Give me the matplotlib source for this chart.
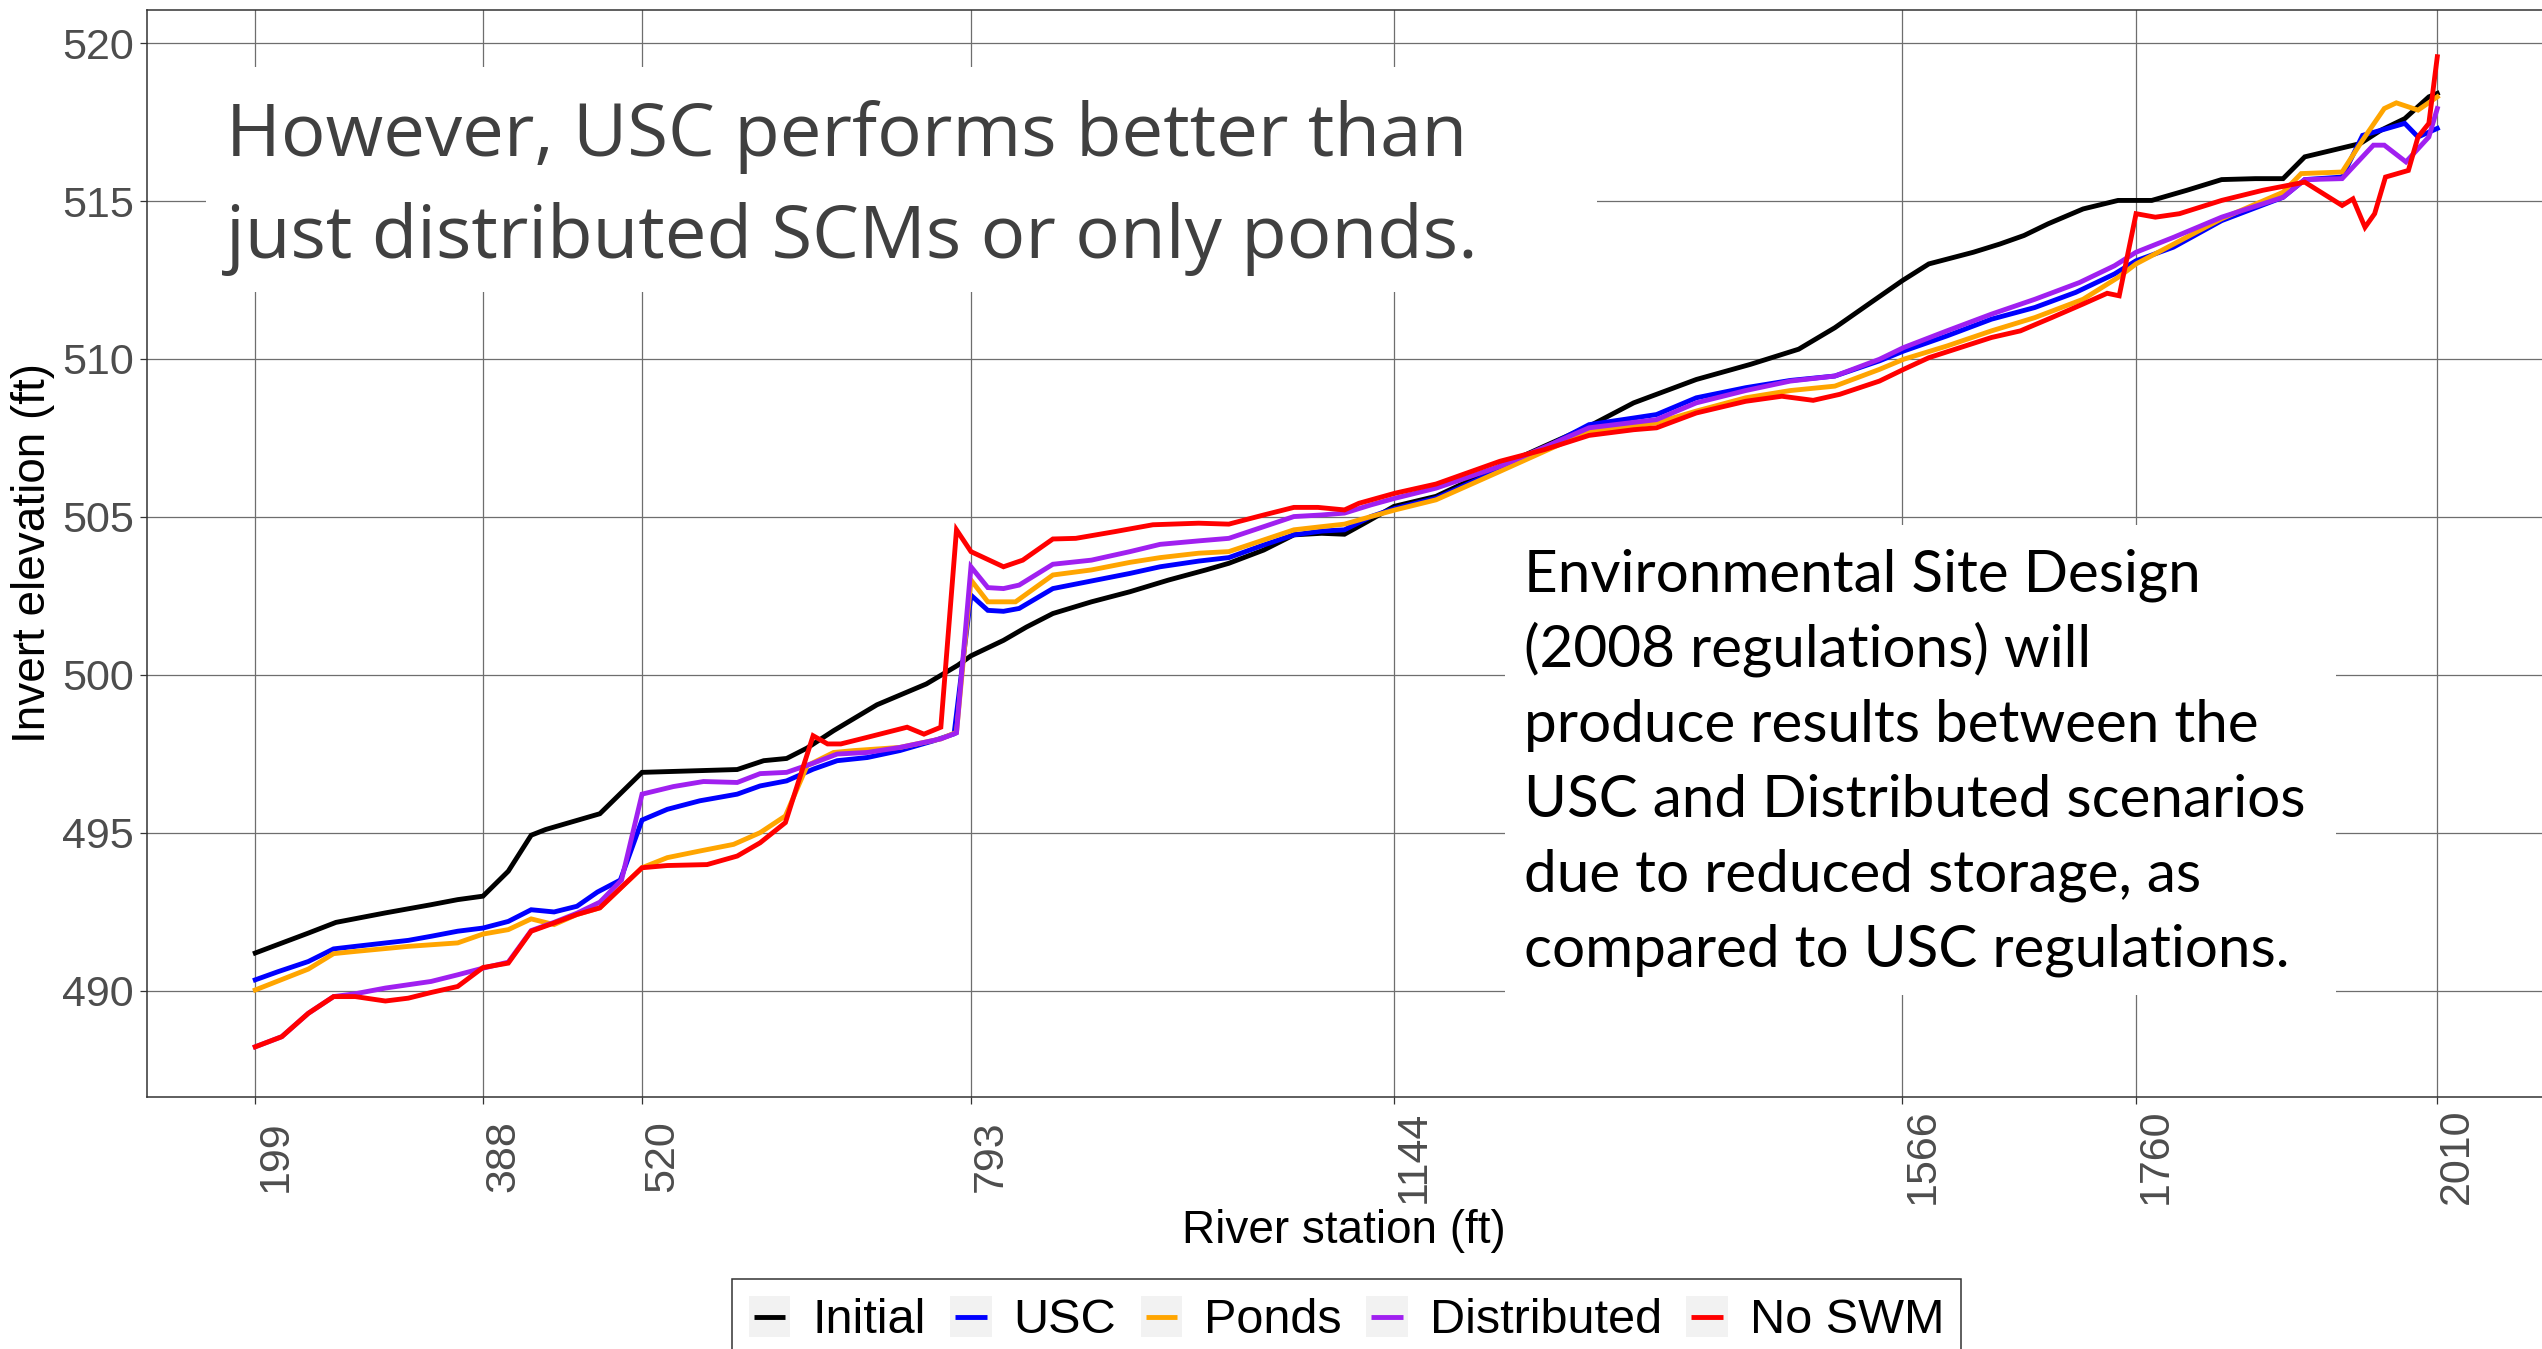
import matplotlib
matplotlib.use('Agg')
import matplotlib.pyplot as plt
from matplotlib.patches import Rectangle
from matplotlib.lines import Line2D
from matplotlib.legend_handler import HandlerLine2D

W, H = 2542, 1349

# river station (ft) / invert elevation (ft) for each scenario
initial_st = [199, 243, 266, 307, 345, 367, 388, 409, 428, 440, 485, 520, 599, 621, 640, 657,
              679, 715, 756, 782, 793, 820, 839, 861, 893, 925, 957, 988, 1007, 1036, 1061,
              1084, 1103, 1122, 1144, 1179, 1232, 1269, 1306, 1343, 1395, 1440, 1480, 1510,
              1540, 1566, 1588, 1625, 1647, 1667, 1687, 1716, 1745, 1773, 1802, 1831, 1859,
              1882, 1900, 1934, 1946, 1963, 1983, 2003, 2010]
initial_el = [491.19, 491.82, 492.16, 492.46, 492.72, 492.88, 492.99, 493.78, 494.92, 495.1,
              495.6, 496.91, 497.0, 497.28, 497.35, 497.68, 498.23, 499.05, 499.71, 500.3,
              500.6, 501.09, 501.51, 501.94, 502.31, 502.63, 503.0, 503.32, 503.53, 503.95,
              504.43, 504.48, 504.45, 504.85, 505.33, 505.65, 506.6, 507.24, 507.87, 508.61,
              509.35, 509.83, 510.31, 510.99, 511.79, 512.48, 513.01, 513.38, 513.64, 513.91,
              514.28, 514.75, 515.02, 515.02, 515.34, 515.68, 515.71, 515.71, 516.4, 516.71,
              516.82, 517.24, 517.61, 518.3, 518.41]

usc_st = [199, 218, 243, 264, 282, 326, 345, 367, 388, 409, 428, 447, 466, 483, 502, 520, 541,
          568, 599, 618, 640, 662, 682, 707, 734, 762, 779, 793, 807, 820, 833, 861, 893, 925,
          950, 982, 1007, 1036, 1061, 1084, 1103, 1125, 1145, 1179, 1232, 1269, 1306, 1343,
          1362, 1395, 1436, 1473, 1510, 1547, 1567, 1603, 1640, 1676, 1710, 1742, 1760, 1791,
          1831, 1882, 1900, 1931, 1948, 1963, 1983, 1994, 2010]
usc_el = [490.34, 490.6, 490.92, 491.32, 491.4, 491.59, 491.72, 491.88, 491.98, 492.19, 492.56,
          492.49, 492.67, 493.12, 493.5, 495.4, 495.74, 496.01, 496.22, 496.48, 496.64, 497.01,
          497.28, 497.38, 497.6, 497.91, 498.13, 502.52, 502.04, 502.01, 502.1, 502.73, 502.97,
          503.21, 503.42, 503.6, 503.71, 504.11, 504.43, 504.55, 504.59, 505.01, 505.27,
          505.59, 506.5, 507.18, 507.92, 508.13, 508.24, 508.77, 509.09, 509.32, 509.46,
          509.94, 510.25, 510.73, 511.26, 511.63, 512.11, 512.69, 513.11, 513.54, 514.38,
          515.12, 515.68, 515.76, 517.08, 517.24, 517.46, 517.03, 517.3]

ponds_st = [199, 243, 264, 282, 326, 367, 388, 409, 428, 447, 466, 485, 501, 520, 541, 568,
            596, 618, 639, 657, 679, 696, 734, 768, 781, 793, 807, 830, 861, 893, 925, 950,
            982, 1007, 1036, 1061, 1084, 1103, 1125, 1145, 1179, 1232, 1306, 1362, 1395,
            1436, 1473, 1510, 1547, 1567, 1603, 1640, 1676, 1716, 1745, 1760, 1831, 1882,
            1897, 1931, 1948, 1966, 1976, 1994, 2010]
ponds_el = [490.02, 490.68, 491.17, 491.24, 491.4, 491.51, 491.79, 491.93, 492.27, 492.09,
            492.41, 492.62, 493.2, 493.89, 494.21, 494.42, 494.63, 495.0, 495.53, 497.12,
            497.54, 497.6, 497.7, 497.97, 498.18, 503.0, 502.31, 502.31, 503.16, 503.32,
            503.56, 503.71, 503.85, 503.9, 504.27, 504.59, 504.69, 504.77, 505.01, 505.22,
            505.54, 506.44, 507.71, 507.98, 508.35, 508.77, 509.0, 509.14, 509.67, 509.99,
            510.41, 510.89, 511.31, 511.89, 512.58, 513.01, 514.44, 515.28, 515.87, 515.92,
            516.93, 517.93, 518.11, 517.88, 518.3]

dist_st = [199, 221, 243, 264, 282, 307, 345, 367, 388, 409, 428, 447, 466, 485, 503, 520,
           546, 571, 599, 618, 640, 662, 682, 707, 734, 768, 781, 793, 807, 820, 833, 861,
           893, 925, 950, 982, 1007, 1036, 1061, 1084, 1103, 1125, 1145, 1179, 1232, 1306,
           1362, 1395, 1436, 1473, 1510, 1547, 1567, 1603, 1640, 1676, 1713, 1742, 1760,
           1791, 1831, 1882, 1900, 1931, 1957, 1966, 1984, 2003, 2010]
dist_el = [488.22, 488.54, 489.28, 489.81, 489.9, 490.08, 490.29, 490.5, 490.71, 490.9, 491.9,
           492.16, 492.45, 492.8, 493.5, 496.22, 496.46, 496.62, 496.59, 496.87, 496.91,
           497.2, 497.49, 497.54, 497.7, 497.97, 498.16, 503.42, 502.76, 502.73, 502.84,
           503.5, 503.63, 503.9, 504.13, 504.24, 504.32, 504.69, 505.01, 505.06, 505.12,
           505.38, 505.59, 505.91, 506.6, 507.82, 508.08, 508.61, 509.0, 509.3, 509.46,
           509.99, 510.36, 510.89, 511.42, 511.89, 512.42, 512.95, 513.38, 513.85, 514.49,
           515.12, 515.68, 515.71, 516.77, 516.77, 516.24, 517.03, 517.93]

noswm_st = [199, 221, 243, 264, 282, 307, 326, 345, 367, 388, 409, 428, 447, 466, 485, 501,
            520, 541, 574, 599, 618, 639, 662, 674, 685, 707, 740, 754, 768, 781, 793, 820,
            836, 861, 880, 912, 944, 982, 1007, 1036, 1061, 1081, 1103, 1115, 1145, 1179,
            1232, 1269, 1306, 1343, 1362, 1395, 1436, 1466, 1492, 1514, 1547, 1567, 1588,
            1640, 1664, 1690, 1716, 1736, 1746, 1760, 1776, 1796, 1831, 1865, 1900, 1931,
            1940, 1950, 1958, 1967, 1986, 1994, 2003, 2010]
noswm_el = [488.22, 488.54, 489.28, 489.81, 489.81, 489.67, 489.76, 489.94, 490.13, 490.73,
            490.87, 491.88, 492.14, 492.41, 492.62, 493.2, 493.89, 493.96, 493.99, 494.26,
            494.68, 495.32, 498.07, 497.81, 497.81, 498.02, 498.34, 498.12, 498.34, 504.59,
            503.9, 503.42, 503.63, 504.3, 504.32, 504.53, 504.75, 504.8, 504.77, 505.06,
            505.3, 505.3, 505.22, 505.43, 505.75, 506.04, 506.76, 507.13, 507.58, 507.76,
            507.82, 508.29, 508.66, 508.82, 508.69, 508.88, 509.3, 509.67, 510.04, 510.68,
            510.89, 511.31, 511.74, 512.08, 512.0, 514.6, 514.49, 514.6, 515.02, 515.34,
            515.6, 514.86, 515.07, 514.17, 514.6, 515.76, 515.97, 517.03, 517.46, 519.57]

series_names = ['Initial', 'USC', 'Ponds', 'Distributed', 'No SWM']
series_colors = ['#000000', '#0000ff', '#ffa500', '#a020f0', '#ff0000']
stations = [initial_st, usc_st, ponds_st, dist_st, noswm_st]
elevations = [initial_el, usc_el, ponds_el, dist_el, noswm_el]

xtick_vals = [199, 388, 520, 793, 1144, 1566, 1760, 2010]
ytick_vals = [490, 495, 500, 505, 510, 515, 520]

ann1_lines = ["However, USC performs better than",
              "just distributed SCMs or only ponds."]
ann2_lines = ["Environmental Site Design",
              "(2008 regulations) will",
              "produce results between the",
              "USC and Distributed scenarios",
              "due to reduced storage, as",
              "compared to USC regulations."]


class KeyHandler(HandlerLine2D):
    # ggplot style legend key: light grey square with a short line
    def create_artists(self, legend, orig_handle, xdescent, ydescent, width, height, fontsize, trans):
        bg = Rectangle((-xdescent, -ydescent), width, height, facecolor='#f2f2f2',
                       edgecolor='none', transform=trans)
        y = -ydescent + height / 2
        seg = Line2D([-xdescent + 0.12 * width, -xdescent + 0.88 * width], [y, y],
                     color=orig_handle.get_color(), linewidth=orig_handle.get_linewidth(),
                     solid_capstyle='butt', transform=trans)
        return [bg, seg]


def fx(px):
    return px / W


def fy(py):
    return 1 - py / H


plt.rcParams['font.family'] = ['Liberation Sans', 'DejaVu Sans']

fig = plt.figure(figsize=(W / 100, H / 100), dpi=100)
ax = fig.add_axes([fx(146.7), fy(1096.7), 1 - fx(146.7), fy(10) - fy(1096.7)])

for st, el, name, col in zip(stations, elevations, series_names, series_colors):
    ax.plot(st, el, color=col, lw=3.5, label=name, solid_joinstyle='miter')

ax.set_xlim(108.9, 2096.9)
ax.set_ylim(486.64, 521.05)
ax.set_xticks(xtick_vals)
ax.set_yticks(ytick_vals)
ax.set_xticklabels([str(v) for v in xtick_vals])
ax.set_axisbelow(True)
ax.grid(True, color='#6e6e6e', lw=0.9)

for side in ['left', 'top', 'bottom']:
    ax.spines[side].set_color('#333333')
    ax.spines[side].set_linewidth(1.1)
ax.spines['right'].set_visible(False)

ax.tick_params(axis='both', direction='out', length=5, width=0.9, color='#333333',
               labelcolor='#4d4d4d', labelsize=31)
ax.tick_params(axis='y', pad=4.3)
ax.tick_params(axis='x', pad=38, labelrotation=90)
plt.setp(ax.get_xticklabels(), va='center', ha='left')

ax.set_xlabel('River station (ft)', fontsize=33, color='black', va='baseline')
ax.xaxis.set_label_coords(0.5, -(1243 - 1096.7) / 1086.7)
ax.set_ylabel('Invert elevation (ft)', fontsize=33, color='black', va='center')
ax.yaxis.set_label_coords((33 - 146.7) / (W - 146.7), 0.5)

leg = fig.legend(handles=ax.get_lines(), labels=series_names, loc='upper center',
                 bbox_to_anchor=(fx(1346.5), fy(1279)), bbox_transform=fig.transFigure,
                 ncol=5, fontsize=35, frameon=True, fancybox=False, framealpha=1,
                 edgecolor='#333333', handlelength=0.86, handleheight=0.92,
                 handletextpad=0.45, columnspacing=0.5, borderpad=0.35,
                 borderaxespad=0, handler_map={Line2D: KeyHandler()})
leg.get_frame().set_linewidth(1.1)

# white boxes behind the two call-outs
fig.add_artist(Rectangle((fx(206), fy(292)), fx(1597) - fx(206), fy(67) - fy(292),
                         transform=fig.transFigure, facecolor='white', edgecolor='none', zorder=1))
fig.add_artist(Rectangle((fx(1505), fy(995)), fx(2336) - fx(1505), fy(525) - fy(995),
                         transform=fig.transFigure, facecolor='white', edgecolor='none', zorder=1))

renderer = fig.canvas.get_renderer()


def fitted_size(text, family, target_px, base=40):
    t = fig.text(0, 0, text, fontsize=base, family=family)
    w = t.get_window_extent(renderer).width
    t.remove()
    return base * target_px / w


size1 = fitted_size(ann1_lines[1], 'Open Sans', 1250)
for i, line in enumerate(ann1_lines):
    fig.text(fx(226), fy(156 + i * 102.3), line, fontsize=size1, family='Open Sans',
             color='#404040', va='baseline', ha='left', zorder=2)

size2 = fitted_size(ann2_lines[3], 'Lato', 780)
for i, line in enumerate(ann2_lines):
    fig.text(fx(1524), fy(591.7 + i * 75), line, fontsize=size2, family='Lato',
             color='black', va='baseline', ha='left', zorder=2)

fig.savefig('out.png', dpi=100)
